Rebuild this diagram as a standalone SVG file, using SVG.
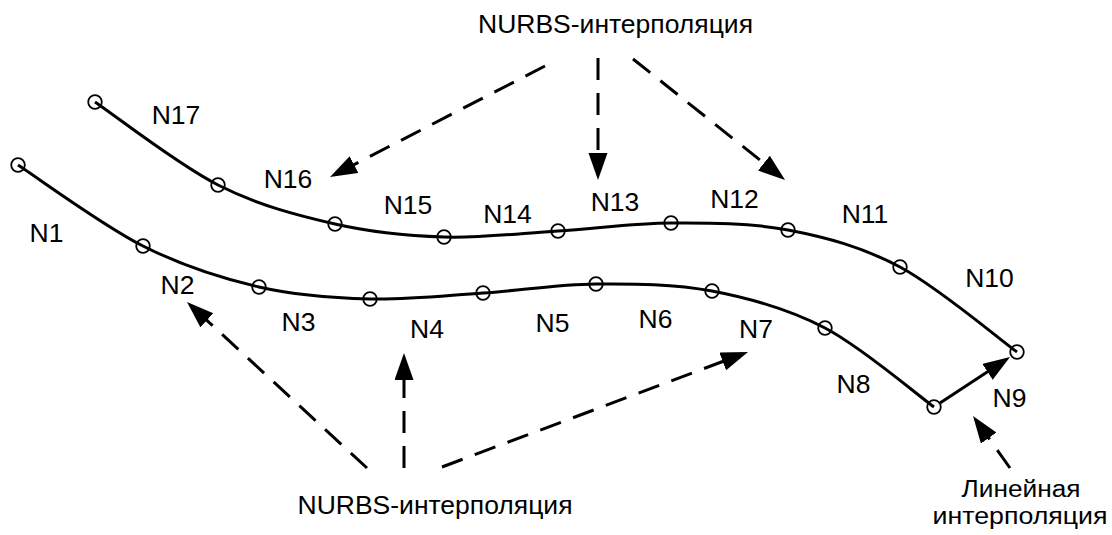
<svg xmlns="http://www.w3.org/2000/svg" width="1112" height="535" viewBox="0 0 1112 535">
<style>
.bg{fill:#fff}
.curve{fill:none;stroke:#000;stroke-width:3}
.pt{fill:none;stroke:#000;stroke-width:1.8}
.dash{fill:none;stroke:#000;stroke-width:3;stroke-dasharray:22 13}
.solid{fill:none;stroke:#000;stroke-width:3}
text{font-family:"Liberation Sans",Arial,sans-serif;font-size:26.5px;fill:#000;text-anchor:middle}
.small{font-size:23.5px}
</style>
<defs>
<marker id="ah" markerUnits="userSpaceOnUse" markerWidth="28" markerHeight="20" refX="7" refY="9.5" orient="auto" viewBox="0 0 28 20">
<path d="M0,0 L27,9.5 L0,19 z" fill="#000"/>
</marker>
</defs>
<rect class="bg" x="0" y="0" width="1112" height="535"/>
<g id="connectors">
<path id="curve-upper" class="curve" d="M95,102 C115.5,115.8 178,164.7 218,185 C258,205.3 297.3,215.3 335,224 C372.7,232.7 406.8,235.8 444,237 C481.2,238.2 520.2,233.3 558,231 C595.8,228.7 632.7,223.2 671,223 C709.3,222.8 749.8,222.7 788,230 C826.2,237.3 861.8,246.7 900,267 C938.2,287.3 997.5,337.8 1017,352"/>
<path id="curve-lower" class="curve" d="M18,165 C38.8,178.5 102.8,225.7 143,246 C183.2,266.3 221.2,278.2 259,287 C296.8,295.8 332.7,298 370,299 C407.3,300 445.3,295.5 483,293 C520.7,290.5 557.8,284.3 596,284 C634.2,283.7 673.8,283.7 712,291 C750.2,298.3 788,308.7 825,328 C862,347.3 915.8,393.8 934,407"/>
<line id="linear-seg" class="solid" x1="940" y1="403" x2="993.3" y2="368" marker-end="url(#ah)"/>
<line class="dash" x1="545" y1="66" x2="347.8" y2="167.8" marker-end="url(#ah)"/>
<line class="dash" x1="598" y1="58" x2="598" y2="160" marker-end="url(#ah)"/>
<line class="dash" x1="633" y1="59" x2="769.4" y2="167.5" marker-end="url(#ah)"/>
<line class="dash" x1="367" y1="468" x2="201.7" y2="315.6" marker-end="url(#ah)"/>
<line class="dash" x1="404" y1="468" x2="404" y2="373" marker-end="url(#ah)"/>
<line class="dash" x1="442" y1="467" x2="729.3" y2="359" marker-end="url(#ah)"/>
<line class="dash" x1="1010" y1="468" x2="984.6" y2="432.3" marker-end="url(#ah)"/>
</g>
<g id="points">
<g id="p-lower"><circle class="pt" cx="18" cy="165" r="6.8"/><circle class="pt" cx="143" cy="246" r="6.8"/><circle class="pt" cx="259" cy="287" r="6.8"/><circle class="pt" cx="370" cy="299" r="6.8"/><circle class="pt" cx="483" cy="293" r="6.8"/><circle class="pt" cx="596" cy="284" r="6.8"/><circle class="pt" cx="712" cy="291" r="6.8"/><circle class="pt" cx="825" cy="328" r="6.8"/><circle class="pt" cx="934" cy="407" r="6.8"/></g>
<g id="p-upper"><circle class="pt" cx="1017" cy="352" r="6.8"/><circle class="pt" cx="900" cy="267" r="6.8"/><circle class="pt" cx="788" cy="230" r="6.8"/><circle class="pt" cx="671" cy="223" r="6.8"/><circle class="pt" cx="558" cy="231" r="6.8"/><circle class="pt" cx="444" cy="237" r="6.8"/><circle class="pt" cx="335" cy="224" r="6.8"/><circle class="pt" cx="218" cy="185" r="6.8"/><circle class="pt" cx="95" cy="102" r="6.8"/></g>
</g>
<g id="N1"><text x="46.5" y="242">N1</text></g>
<g id="N2"><text x="177.5" y="294">N2</text></g>
<g id="N3"><text x="298.5" y="331">N3</text></g>
<g id="N4"><text x="427" y="338">N4</text></g>
<g id="N5"><text x="552.5" y="332">N5</text></g>
<g id="N6"><text x="655.5" y="328">N6</text></g>
<g id="N7"><text x="756" y="338">N7</text></g>
<g id="N8"><text x="853.5" y="393">N8</text></g>
<g id="N9"><text x="1009.5" y="407">N9</text></g>
<g id="N10"><text x="989.5" y="287">N10</text></g>
<g id="N11"><text x="865" y="223">N11</text></g>
<g id="N12"><text x="734.5" y="208">N12</text></g>
<g id="N13"><text x="615" y="211">N13</text></g>
<g id="N14"><text x="507.5" y="223">N14</text></g>
<g id="N15"><text x="408" y="214">N15</text></g>
<g id="N16"><text x="288" y="188">N16</text></g>
<g id="N17"><text x="176" y="124">N17</text></g>
<g id="label-nurbs-top"><text x="615.5" y="33">NURBS-интерполяция</text></g>
<g id="label-nurbs-bottom"><text x="435" y="514">NURBS-интерполяция</text></g>
<g id="label-linear"><text class="small" x="1021" y="497" textLength="119" lengthAdjust="spacingAndGlyphs">Линейная</text><text class="small" x="1020" y="524" textLength="175" lengthAdjust="spacingAndGlyphs">интерполяция</text></g>
</svg>
